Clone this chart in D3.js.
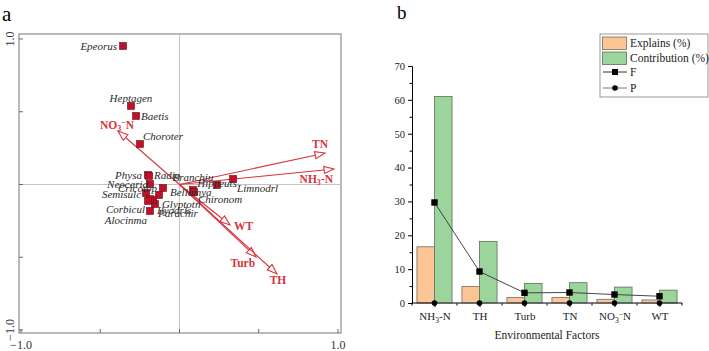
<!DOCTYPE html>
<html>
<head>
<meta charset="utf-8">
<script src="https://cdn.jsdelivr.net/npm/d3@7/dist/d3.min.js"></script>
<style>
  body { margin: 0; background: #fff; }
  svg { display: block; font-family: "Liberation Serif", "Times New Roman", serif; }
</style>
</head>
<body>
<svg id="chart" width="709" height="351"></svg>
<script>
// ---- panel a : CCA biplot ----
var speciesNames = ["Epeorus", "Heptagen", "Baetis", "Choroter", "Physa", "Radio", "Neocarid",
    "Cricotop", "Bellamya", "Branchiu", "Chironom", "Hippeuts", "Limnodrl", "Semisulc",
    "Glyptotn", "Ilyodrls", "Parachir", "Corbicul", "Alocinma"];
var speciesAx1 = [-0.356, -0.306, -0.274, -0.249, -0.199, -0.192, -0.186,
    -0.129, -0.104, 0.085, 0.091, 0.237, 0.338, -0.211,
    -0.155, -0.167, -0.186, -0.186, -0.199];
var speciesAx2 = [0.952, 0.540, 0.471, 0.278, 0.065, 0.058, 0.003,
    -0.072, -0.024, -0.038, -0.052, -0.003, 0.038, -0.058,
    -0.134, -0.107, -0.100, -0.182, -0.113];

var envNames = ["TN", "NH3-N", "NO3-N", "WT", "Turb", "TH"];
var envAx1 = [0.918, 0.975, -0.388, 0.319, 0.483, 0.615];
var envAx2 = [0.216, 0.107, 0.368, -0.278, -0.498, -0.615];

// ---- panel b : bars + lines ----
var factors = ["NH3-N", "TH", "Turb", "TN", "NO3-N", "WT"];
var explains = [16.6, 4.9, 1.6, 1.6, 1.1, 0.9];
var contribution = [61.0, 18.2, 5.8, 6.0, 4.7, 3.8];
var fValues = [29.7, 9.3, 3.0, 3.1, 2.5, 2.0];
var pValues = [0.002, 0.002, 0.002, 0.002, 0.004, 0.02];
var yTicksB = [0, 10, 20, 30, 40, 50, 60, 70];

var svg = d3.select("#chart");
var red = "#d8343c";

// label placement for the biplot (pixel offsets, anchor)
var spLabel = {
    Epeorus: [-6, 4, "end"], Heptagen: [0, -4, "middle"], Baetis: [5, 4, "start"],
    Choroter: [3, -4, "start"], Physa: [-6, 4, "end"], Radio: [5, 3, "start"],
    Neocarid: [-2, 4, "end"], Cricotop: [-2, -3, "end"], Bellamya: [7, 8, "start"],
    Branchiu: [0, -9, "middle"], Chironom: [4, 11, "start"], Hippeuts: [0, 2, "middle"],
    Limnodrl: [4, 13, "start"], Semisulc: [-5, 5, "end"], Glyptotn: [7, 4, "start"],
    Ilyodrls: [4, 14, "start"], Parachir: [8, 18, "start"], Corbicul: [-5, 2, "end"],
    Alocinma: [-1, 23, "end"]
};
var envLabel = {
    "TN": [-5, -5, "middle"], "NH3-N": [-1, 14, "end"], "NO3-N": [-1, -2, "middle"],
    "WT": [4, 5, "start"], "Turb": [-1, 10, "end"], "TH": [1, 10, "middle"]
};

// writes chemistry labels with a subscript 3 (and superscript minus for nitrate)
function chemText(sel, name) {
    var m = name.match(/^(NH|NO)3-N$/);
    if (!m) { sel.text(name); return; }
    sel.append("tspan").text(m[1]);
    sel.append("tspan").attr("dy", 2.5).style("font-size", "0.7em").text("3");
    if (m[1] == "NO") {
        sel.append("tspan").attr("dy", -6).style("font-size", "0.7em").text("\u2212");
        sel.append("tspan").attr("dy", 3.5).text("N");
    } else {
        sel.append("tspan").attr("dy", -2.5).text("-N");
    }
}

// ================= panel a =================
var ax = d3.scaleLinear().domain([-1, 1]).range([21, 338]);
var ay = d3.scaleLinear().domain([-1, 1]).range([330, 39]);
var ga = svg.append("g");

ga.append("text").attr("x", 2).attr("y", 21).style("font-size", "21px").text("a");

ga.append("rect")
    .attr("x", 19).attr("y", 34).attr("width", 322).attr("height", 299)
    .attr("fill", "none").attr("stroke", "#8c8c8c").attr("stroke-width", 1.2);

ga.append("line").attr("x1", ax(0)).attr("x2", ax(0)).attr("y1", 34).attr("y2", 333)
    .attr("stroke", "#c4c4c4").attr("stroke-width", 1);
ga.append("line").attr("x1", 19).attr("x2", 341).attr("y1", ay(0)).attr("y2", ay(0))
    .attr("stroke", "#c4c4c4").attr("stroke-width", 1);

var tickVals = [-1, -0.5, 0, 0.5, 1];
ga.selectAll(".ytk").data(tickVals).enter().append("line")
    .attr("x1", 19).attr("x2", 23).attr("y1", d => ay(d)).attr("y2", d => ay(d))
    .attr("stroke", "#666");
ga.selectAll(".xtk").data(tickVals).enter().append("line")
    .attr("y1", 333).attr("y2", 329).attr("x1", d => ax(d)).attr("x2", d => ax(d))
    .attr("stroke", "#666");

[-1, 1].forEach(function (v) {
    ga.append("text")
        .attr("transform", "translate(14," + ay(v) + ") rotate(-90)")
        .attr("text-anchor", "middle").style("font-size", "12px").attr("fill", "#333")
        .text(d3.format(".1f")(v));
    ga.append("text")
        .attr("x", ax(v)).attr("y", 349)
        .attr("text-anchor", "middle").style("font-size", "12px").attr("fill", "#333")
        .text(d3.format(".1f")(v));
});

// environmental arrows
var arrows = ga.append("g");
envNames.forEach(function (name, i) {
    var x0 = ax(0), y0 = ay(0), x1 = ax(envAx1[i]), y1 = ay(envAx2[i]);
    var ang = Math.atan2(y1 - y0, x1 - x0);
    var L = 10, W = 3.6;
    var bx = x1 - L * Math.cos(ang), by = y1 - L * Math.sin(ang);
    arrows.append("line")
        .attr("x1", x0).attr("y1", y0).attr("x2", bx).attr("y2", by)
        .attr("stroke", red).attr("stroke-width", 1.1);
    var pts = [[x1, y1],
        [bx + W * Math.sin(ang), by - W * Math.cos(ang)],
        [bx - W * Math.sin(ang), by + W * Math.cos(ang)]];
    arrows.append("polygon")
        .attr("points", pts.map(p => p.join(",")).join(" "))
        .attr("fill", "#fff").attr("stroke", red).attr("stroke-width", 1.1);
    var o = envLabel[name];
    var t = arrows.append("text")
        .attr("x", x1 + o[0]).attr("y", y1 + o[1])
        .attr("text-anchor", o[2])
        .attr("fill", red).style("font-size", "11.5px").style("font-weight", "bold");
    chemText(t, name);
});

// species
var sp = ga.append("g");
speciesNames.forEach(function (name, i) {
    var x = ax(speciesAx1[i]), y = ay(speciesAx2[i]);
    sp.append("rect")
        .attr("x", x - 3.5).attr("y", y - 3.5).attr("width", 7).attr("height", 7)
        .attr("fill", "#c0102a").attr("stroke", "#6a0d15").attr("stroke-width", 0.6);
});
speciesNames.forEach(function (name, i) {
    var x = ax(speciesAx1[i]), y = ay(speciesAx2[i]);
    var o = spLabel[name];
    sp.append("text")
        .attr("x", x + o[0]).attr("y", y + o[1])
        .attr("text-anchor", o[2])
        .style("font-size", "11px").style("font-style", "italic")
        .attr("fill", "#2a2a2a").text(name);
});

// ================= panel b =================
var gb = svg.append("g");
gb.append("text").attr("x", 397).attr("y", 19).style("font-size", "19px").text("b");

var bx = d3.scalePoint().domain(factors).range([412, 682]).padding(0.5);
var by = d3.scaleLinear().domain([0, 70]).range([303, 66]);
var bw = bx.step() * 0.39;

gb.selectAll(".exp").data(factors).enter().append("rect")
    .attr("x", d => bx(d) - bw).attr("width", bw)
    .attr("y", (d, i) => by(explains[i])).attr("height", (d, i) => by(0) - by(explains[i]))
    .attr("fill", "#fcc596").attr("stroke", "#7a6a5e").attr("stroke-width", 0.8);
gb.selectAll(".con").data(factors).enter().append("rect")
    .attr("x", d => bx(d)).attr("width", bw)
    .attr("y", (d, i) => by(contribution[i])).attr("height", (d, i) => by(0) - by(contribution[i]))
    .attr("fill", "#9bd59b").attr("stroke", "#5e6e5e").attr("stroke-width", 0.8);

// axes
var yAxis = d3.axisLeft(by).tickValues(yTicksB).tickSize(4).tickPadding(3);
gb.append("g").attr("transform", "translate(412,0)").call(yAxis)
    .call(g => g.selectAll("text").style("font-size", "10.5px").style("font-family", "Liberation Serif").attr("fill", "#222"));
gb.append("g").attr("transform", "translate(412,0)")
    .call(d3.axisLeft(by).tickValues(d3.range(5, 70, 10)).tickSize(2.5).tickFormat(""))
    .call(g => g.select(".domain").remove());

var xAxis = d3.axisBottom(bx).tickSize(4).tickPadding(4).tickFormat("");
var xg = gb.append("g").attr("transform", "translate(0,303)").call(xAxis);
xg.select(".domain").attr("d", "M412,0H682");
xg.selectAll(".tick").each(function (d) {
    chemText(d3.select(this).append("text").attr("y", 17).attr("fill", "#222")
        .attr("text-anchor", "middle").style("font-size", "11px").style("font-family", "Liberation Serif"), d);
});
var bounds = d3.range(0, factors.length + 1).map(i => 412 + i * bx.step());
gb.selectAll(".mtk").data(bounds).enter().append("line")
    .attr("x1", d => d).attr("x2", d => d).attr("y1", 303).attr("y2", 305.5)
    .attr("stroke", "#000");

gb.append("text").attr("x", 547).attr("y", 339).attr("text-anchor", "middle")
    .style("font-size", "11.5px").attr("fill", "#222").text("Environmental Factors");

// F and P lines
var line = d3.line().x(d => d[0]).y(d => d[1]);
var fPts = factors.map((d, i) => [bx(d), by(fValues[i])]);
var pPts = factors.map((d, i) => [bx(d), by(pValues[i])]);
gb.append("path").attr("d", line(fPts)).attr("fill", "none").attr("stroke", "#333").attr("stroke-width", 0.9);
gb.append("path").attr("d", line(pPts)).attr("fill", "none").attr("stroke", "#777").attr("stroke-width", 0.9);
gb.selectAll(".fpt").data(fPts).enter().append("rect")
    .attr("x", d => d[0] - 3.2).attr("y", d => d[1] - 3.2).attr("width", 6.4).attr("height", 6.4)
    .attr("fill", "#000");
gb.selectAll(".ppt").data(pPts).enter().append("circle")
    .attr("cx", d => d[0]).attr("cy", d => d[1]).attr("r", 2.8).attr("fill", "#000");

// legend
var lg = gb.append("g");
lg.append("rect").attr("x", 600).attr("y", 34).attr("width", 108).attr("height", 63)
    .attr("fill", "#fff").attr("stroke", "#999").attr("stroke-width", 1);
lg.append("rect").attr("x", 602.5).attr("y", 37).attr("width", 24).attr("height", 12.5)
    .attr("fill", "#fcc596").attr("stroke", "#7a6a5e").attr("stroke-width", 0.8);
lg.append("rect").attr("x", 602.5).attr("y", 52).attr("width", 24).attr("height", 12.5)
    .attr("fill", "#9bd59b").attr("stroke", "#5e6e5e").attr("stroke-width", 0.8);
lg.append("line").attr("x1", 603).attr("x2", 627).attr("y1", 72).attr("y2", 72).attr("stroke", "#333");
lg.append("rect").attr("x", 612).attr("y", 69).attr("width", 6).attr("height", 6).attr("fill", "#000");
lg.append("line").attr("x1", 603).attr("x2", 627).attr("y1", 88).attr("y2", 88).attr("stroke", "#777");
lg.append("circle").attr("cx", 615).attr("cy", 88).attr("r", 2.8).attr("fill", "#000");
var legTexts = ["Explains (%)", "Contribution (%)", "F", "P"];
var legY = [47, 62, 76, 92];
legTexts.forEach(function (t, i) {
    lg.append("text").attr("x", 630).attr("y", legY[i]).style("font-size", "11.5px")
        .attr("fill", "#222").text(t);
});
</script>
</body>
</html>
